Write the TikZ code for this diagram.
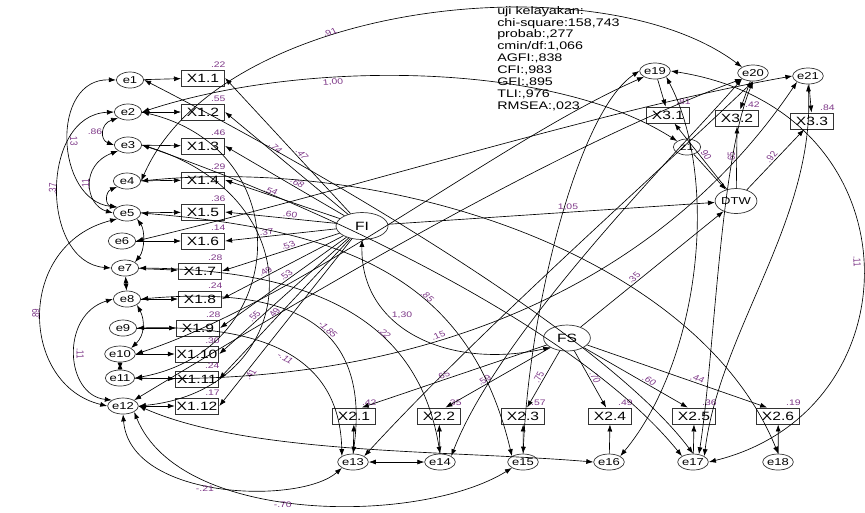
\documentclass[tikz,border=0pt]{standalone}
\usepackage{fontspec}
\setmainfont{Liberation Sans}
\usepackage{tikz}
\usetikzlibrary{shapes.geometric, arrows.meta}
\definecolor{labpurple}{RGB}{125,55,135}

\begin{document}
\begin{tikzpicture}[
    x=0.7692pt, y=-1pt, xscale=1.3, transform shape,
    err/.style={draw=black!80, ellipse, minimum width=21pt, minimum height=16pt, inner sep=0pt, line width=0.7pt, font=\fontsize{10}{10}\selectfont},
    obs/.style={draw=black!80, rectangle, minimum width=33pt, minimum height=16pt, inner sep=1pt, line width=0.9pt, font=\fontsize{12}{12}\selectfont},
    lat/.style={draw=black!80, ellipse, minimum width=40pt, minimum height=27pt, inner sep=0pt, line width=0.7pt, font=\fontsize{12}{12}\selectfont},
    lab/.style={text=labpurple, font=\fontsize{8}{8}\selectfont, inner sep=1pt},
    rsq/.style={label={[lab, xshift=-12pt, yshift=1pt]north east:#1}},
    arrow/.style={-{Latex[length=7pt, width=5pt]}, line width=0.65pt},
    cov/.style={{Latex[length=7pt, width=5pt]}-{Latex[length=7pt, width=5pt]}, line width=0.65pt}
]
\useasboundingbox (0,0) rectangle (865,512);

% fit indices
\node[anchor=north west, align=left, inner sep=0pt, font=\fontsize{11}{11.9}\selectfont] (fit) at (497,6)
    {uji kelayakan:\\chi-square:158,743\\probab:,277\\cmin/df:1,066\\AGFI:,838\\CFI:,983\\GFI:,895\\TLI:,976\\RMSEA:,023};

% FI block
\node[err] (e1) at (130,80) {e1};
\node[err] (e2) at (128,112) {e2};
\node[err] (e3) at (128,145) {e3};
\node[err] (e4) at (127,181) {e4};
\node[err] (e5) at (127,213) {e5};
\node[err] (e6) at (122,241) {e6};
\node[err] (e7) at (125,268) {e7};
\node[err] (e8) at (127,299) {e8};
\node[err] (e9) at (123,328) {e9};
\node[err] (e10) at (120,354) {e10};
\node[err] (e11) at (120,378) {e11};
\node[err] (e12) at (123,406) {e12};

\node[obs, rsq=.22] (x1-1) at (203,78) {X1.1};
\node[obs, rsq=.55] (x1-2) at (203,112) {X1.2};
\node[obs, rsq=.46] (x1-3) at (203,146) {X1.3};
\node[obs, rsq=.29] (x1-4) at (203,180) {X1.4};
\node[obs, rsq=.36] (x1-5) at (203,212) {X1.5};
\node[obs, rsq=.14] (x1-6) at (203,241) {X1.6};
\node[obs, rsq=.28] (x1-7) at (200,271) {X1.7};
\node[obs, rsq=.24] (x1-8) at (200,299) {X1.8};
\node[obs, rsq=.28] (x1-9) at (198,328) {X1.9};
\node[obs, rsq=.30] (x1-10) at (197,354) {X1.10};
\node[obs, rsq=.24] (x1-11) at (197,379) {X1.11};
\node[obs, rsq=.17] (x1-12) at (197,406) {X1.12};

\node[lat] (fi) at (362,226) {FI};

% FS block
\node[lat, minimum width=36pt, minimum height=26pt] (fs) at (567,338) {FS};
\node[obs, rsq=.42] (x2-1) at (354,416) {X2.1};
\node[obs, rsq=.35] (x2-2) at (439,416) {X2.2};
\node[obs, rsq=.57] (x2-3) at (523,416) {X2.3};
\node[obs, rsq=.49] (x2-4) at (610,416) {X2.4};
\node[obs, rsq=.36] (x2-5) at (694,416) {X2.5};
\node[obs, rsq=.19] (x2-6) at (778,416) {X2.6};
\node[err] (e13) at (353,462) {e13};
\node[err] (e14) at (440,462) {e14};
\node[err] (e15) at (523,462) {e15};
\node[err] (e16) at (609,462) {e16};
\node[err] (e17) at (693,462) {e17};
\node[err] (e18) at (778,462) {e18};

% DTW block
\node[lat, minimum width=31pt, minimum height=25pt, font=\fontsize{10}{10}\selectfont] (dtw) at (736,201) {DTW};
\node[err] (z1) at (687,147) {z1};
\node[obs, rsq=.81] (x3-1) at (668,115) {X3.1};
\node[obs, rsq=.42] (x3-2) at (737,118) {X3.2};
\node[obs, rsq=.84] (x3-3) at (812,121) {X3.3};
\node[err] (e19) at (655,71) {e19};
\node[err] (e20) at (753,73) {e20};
\node[err] (e21) at (808,76) {e21};

% measurement paths FI
\draw[arrow] (e1) -- (x1-1);
\draw[arrow] (e2) -- (x1-2);
\draw[arrow] (e3) -- (x1-3);
\draw[arrow] (e4) -- (x1-4);
\draw[arrow] (e5) -- (x1-5);
\draw[arrow] (e6) -- (x1-6);
\draw[arrow] (e7) -- (x1-7);
\draw[arrow] (e8) -- (x1-8);
\draw[arrow] (e9) -- (x1-9);
\draw[arrow] (e10) -- (x1-10);
\draw[arrow] (e11) -- (x1-11);
\draw[arrow] (e12) -- (x1-12);
\draw[arrow] (fi) -- node[lab, sloped, above, pos=0.42] {.47} (x1-1.east);
\draw[arrow] (fi) -- node[lab, sloped, above, pos=0.62] {.74} (x1-2.east);
\draw[arrow] (fi) -- node[lab, sloped, above, pos=0.42] {.68} (x1-3.east);
\draw[arrow] (fi) -- node[lab, sloped, above, pos=0.62] {.54} (x1-4.east);
\draw[arrow] (fi) -- node[lab, sloped, above, pos=0.42] {.60} (x1-5.east);
\draw[arrow] (fi) -- node[lab, sloped, above, pos=0.62] {.37} (x1-6.east);
\draw[arrow] (fi) -- node[lab, sloped, above, pos=0.42] {.53} (x1-7.east);
\draw[arrow] (fi) -- node[lab, sloped, above, pos=0.62] {.49} (x1-8.east);
\draw[arrow] (fi) -- node[lab, sloped, above, pos=0.45] {.53} (x1-9.east);
\draw[arrow] (fi) -- node[lab, sloped, above, pos=0.7] {.55} (x1-10.east);
\draw[arrow] (fi) -- node[lab, sloped, above, pos=0.55] {.49} (x1-11.east);
\draw[arrow] (fi) -- node[lab, sloped, below, pos=0.8] {.41} (x1-12.east);

% measurement paths FS
\draw[arrow] (e13) -- (x2-1);
\draw[arrow] (e14) -- (x2-2);
\draw[arrow] (e15) -- (x2-3);
\draw[arrow] (e16) -- (x2-4);
\draw[arrow] (e17) -- (x2-5);
\draw[arrow] (e18) -- (x2-6);
\draw[arrow] (fs) -- node[lab, sloped, above, pos=0.55] {.65} (x2-1.55);
\draw[arrow] (fs) -- node[lab, sloped, above, pos=0.6] {.59} (x2-2.60);
\draw[arrow] (fs) -- node[lab, sloped, above, pos=0.5] {.75} (x2-3.70);
\draw[arrow] (fs) -- node[lab, sloped, above, pos=0.5] {.70} (x2-4.110);
\draw[arrow] (fs) -- node[lab, sloped, above, pos=0.6] {.60} (x2-5.120);
\draw[arrow] (fs) -- node[lab, sloped, above, pos=0.6] {.44} (x2-6.135);

% measurement paths DTW
\draw[arrow] (e19) -- (x3-1);
\draw[arrow] (e20) -- (x3-2);
\draw[arrow] (e21) -- (x3-3);
\draw[arrow] (dtw) -- node[lab, sloped, above] {.90} (x3-1.300);
\draw[arrow] (dtw) -- node[lab, sloped, above] {.65} (x3-2);
\draw[arrow] (dtw) -- node[lab, sloped, above] {.92} (x3-3);
\draw[arrow] (z1) -- (dtw);

% structural paths
\draw[arrow] (fi) -- node[lab, above, pos=0.55] {1,05} (dtw);
\draw[arrow] (fs) -- node[lab, sloped, above, pos=0.4] {.35} (dtw);
\draw[cov] (fi.south) .. controls (360,330) and (450,370) .. node[lab, pos=0.35, right] {1,30} (fs.south west);

% error covariances, left side
\draw[cov] (e1.west) .. controls (50,78) and (55,200) .. node[lab, sloped, above] {.13} (e5.north west);
\draw[cov] (e2.west) .. controls (40,115) and (40,262) .. node[lab, sloped, above] {.37} (e7.west);
\draw[cov] (e2.south west) .. controls (100,124) and (100,140) .. node[lab, left] {.86} (e3.west);
\draw[cov] (e3.south west) .. controls (80,165) and (85,205) .. node[lab, sloped, above] {.11} (e5.west);
\draw[cov] (e4.south west) .. controls (105,192) and (105,205) .. (e5.north west);
\draw[cov] (e5.south west) .. controls (15,245) and (20,385) .. node[lab, sloped, above] {.89} (e12.west);
\draw[cov] (e8.west) .. controls (60,315) and (65,395) .. node[lab, sloped, above] {.11} (e12.north west);
\draw[cov] (e5.south east) .. controls (145,230) and (145,250) .. (e7.north east);
\draw[cov] (e7) -- (e8);
\draw[cov] (e8.south east) .. controls (145,320) and (145,335) .. (e10.north east);
\draw[cov] (e10) -- (e11);
\draw[cov] (e2.east) .. controls (300,150) and (290,350) .. (e11.east);
\draw[cov] (e3.east) .. controls (320,200) and (300,390) .. (e12.east);

% error covariances, long ones
\draw[cov] (e4.east) .. controls (220,0) and (600,-40) .. node[lab, sloped, above, pos=0.38] {.91} (e20.north west);
\draw[cov] (e2.east) .. controls (300,60) and (550,60) .. node[lab, sloped, below, pos=0.35] {1,00} (z1.north west);
\draw[cov] (e6.east) .. controls (350,190) and (600,110) .. (e21.west);
\draw[cov] (e1.east) .. controls (300,160) and (600,330) .. (e17.north);
\draw[cov] (e3.east) .. controls (330,210) and (580,330) .. (e17.north west);
\draw[cov] (e4.east) .. controls (400,155) and (700,260) .. (e18.north);
\draw[cov] (e5.east) .. controls (350,230) and (470,280) .. node[lab, sloped, above, pos=0.6] {.85} (e15.north west);
\draw[cov] (e7.east) .. controls (330,270) and (420,330) .. node[lab, sloped, above, pos=0.6] {.22} (e14.north);
\draw[cov] (e8.east) .. controls (300,285) and (370,330) .. node[lab, sloped, above, pos=0.55] {-1,85} (e13.north);
\draw[cov] (e9.east) .. controls (270,325) and (340,360) .. node[lab, sloped, below, pos=0.5] {-.11} (e13.north west);
\draw[cov] (e10.east) .. controls (300,300) and (500,140) .. (e19.south west);
\draw[cov] (e11.east) .. controls (400,385) and (650,300) .. node[lab, sloped, above, pos=0.4] {.15} (e21.south west);
\draw[cov] (e12.north east) .. controls (300,300) and (550,150) .. (e20.south west);
\draw[cov] (e12.south) .. controls (130,500) and (300,505) .. node[lab, below, pos=0.45] {-.21} (e13.south west);
\draw[cov] (e12.south east) .. controls (180,525) and (420,525) .. node[lab, below, pos=0.45] {-.70} (e15.south west);
\draw[cov] (e12.east) .. controls (250,455) and (450,450) .. (e16.west);
\draw[cov] (e14) -- (e13);
\draw[cov] (e13.north east) .. controls (480,330) and (650,180) .. (e20.south);
\draw[cov] (e19.east) .. controls (920,110) and (920,410) .. node[lab, sloped, below] {.11} (e17.east);
\draw[cov] (e19.south east) .. controls (720,180) and (700,360) .. (e16.north east);
\draw[cov] (e19.west) .. controls (580,110) and (530,300) .. (e15.north);
\draw[cov] (e20.south west) .. controls (680,150) and (500,330) .. (e14.north east);
\draw[cov] (e20.south) .. controls (720,160) and (715,350) .. (e17.60);
\draw[cov] (e21.south) .. controls (815,220) and (720,330) .. (e17.north east);
\end{tikzpicture}
\end{document}
